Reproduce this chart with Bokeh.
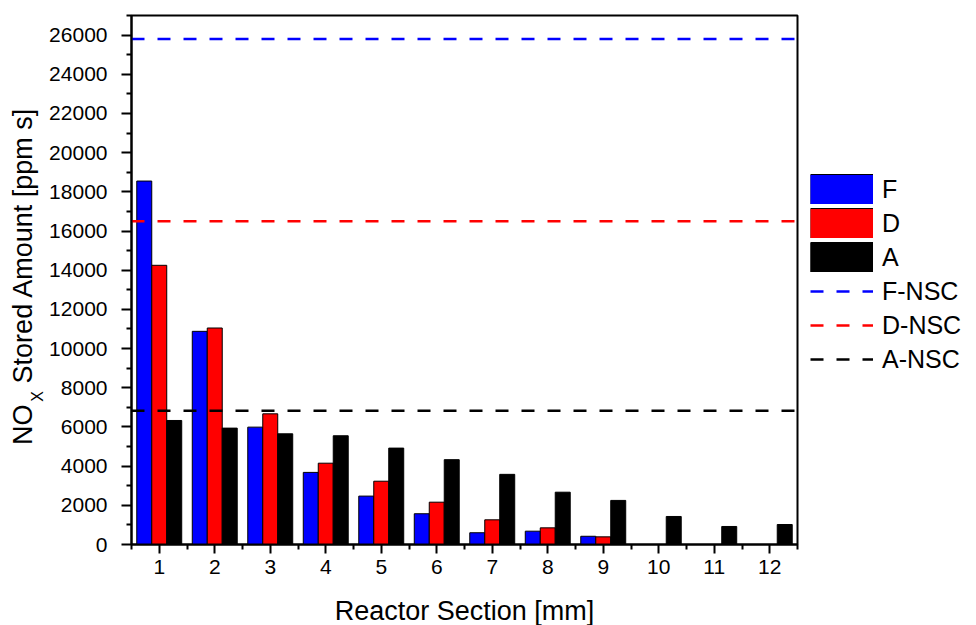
import math
from bokeh.plotting import figure
from bokeh.layouts import row
from bokeh.models import (Range1d, FixedTicker, Legend, LegendItem,
                          ColumnDataSource)
from bokeh.core.properties import value
from bokeh.transform import dodge
from bokeh.embed import file_html
from bokeh.resources import INLINE

# ---- data ----
sections = [1, 2, 3, 4, 5, 6, 7, 8, 9, 10, 11, 12]
F = [18550, 10880, 5990, 3680, 2470, 1570, 600, 680, 420, 0, 0, 0]
D = [14250, 11050, 6670, 4150, 3230, 2160, 1260, 850, 390, 0, 0, 0]
A = [6330, 5940, 5650, 5550, 4920, 4330, 3580, 2670, 2250, 1430, 920, 1020]
bar_names = ["F", "D", "A"]
bar_colors = ["#0000FF", "#FF0000", "#000000"]
nsc_names = ["F-NSC", "D-NSC", "A-NSC"]
nsc_values = [25800, 16500, 6830]
nsc_colors = ["#0000FF", "#FF0000", "#000000"]
y_ticks = list(range(0, 26001, 2000))
y_minor = list(range(1000, 27001, 2000))

FONT = "Liberation Sans"
X0, X1 = 0.5, 12.5
Y0, Y1 = 0, 27000
W, H = 976, 625
LW = 46                    # strip holding the y-axis title
RB = 5                     # right border of the main chart
FL, FW, FB, FH = 129, 666, 544, 529
LGW = W - FL - FW - RB     # strip holding the legend

src = ColumnDataSource(dict(x=sections, F=F, D=D, A=A))

def blank_strip(width, xr, yr):
    f = figure(width=width, height=H, output_backend="svg", toolbar_location=None,
               x_range=xr, y_range=yr, min_border=0,
               x_axis_location=None, y_axis_location=None)
    f.grid.visible = False
    f.outline_line_color = None
    return f

# ---- strip with the y-axis title (NO_X subscript); frame aligned with main frame ----
lab = blank_strip(LW, Range1d(0, LW), Range1d(0, FH))
start = FB - 447
title_parts = [("NO", 22.5, 0, "27px"),
               ("X", 36.5, 43.5, "16px"),
               ("Stored Amount [ppm s]", 22.5, 62, "27px")]
for txt, cx, dy, size in title_parts:
    lab.text(x=[cx], y=[start + dy], text=[txt], angle=math.pi / 2,
             text_font=value(FONT), text_font_size=size, text_color="black",
             text_align="left", text_baseline="middle")

# ---- main chart ----
p = figure(frame_width=FW, frame_height=FH, output_backend="svg", toolbar_location=None,
           x_range=Range1d(X0, X1), y_range=Range1d(Y0, Y1),
           min_border_left=FL - LW, min_border_right=RB,
           min_border_top=FB - FH, min_border_bottom=H - FB)
p.grid.visible = False
p.outline_line_color = "black"
p.outline_line_width = 2
p.background_fill_color = "white"
p.border_fill_color = "white"

bw = 0.27
offsets = [-bw, 0, bw]
for name, col, off in zip(bar_names, bar_colors, offsets):
    p.vbar(x=dodge("x", off, range=p.x_range), top=name, width=bw,
           source=src, fill_color=col, line_color="black", line_width=1)

for name, val, col in zip(nsc_names, nsc_values, nsc_colors):
    p.line(x=[X0, X1], y=[val, val], line_color=col, line_width=2.5, line_dash="13 13")

xa = p.xaxis[0]
xa.ticker = FixedTicker(ticks=sections, minor_ticks=[s - 0.5 for s in sections] + [12.5])
xa.axis_label = "Reactor Section [mm]"
ya = p.yaxis[0]
ya.ticker = FixedTicker(ticks=y_ticks, minor_ticks=y_minor)
for ax in (xa, ya):
    ax.axis_line_width = 2
    ax.major_tick_line_width = 2
    ax.minor_tick_line_width = 2
    ax.major_tick_out = 9
    ax.major_tick_in = 0
    ax.minor_tick_out = 5
    ax.minor_tick_in = 0
    ax.major_label_text_font = FONT
    ax.major_label_text_font_size = "21px"
    ax.major_label_text_color = "black"
    ax.axis_label_text_font = FONT
    ax.axis_label_text_font_size = "27px"
    ax.axis_label_text_font_style = "normal"
    ax.axis_label_text_color = "black"
xa.major_label_standoff = 6
xa.axis_label_standoff = 19
ya.major_label_standoff = 14
ya.major_tick_out = 10

# ---- legend strip (hidden proxy renderers, drawn only by the legend) ----
lg = blank_strip(LGW, Range1d(0, LGW), Range1d(Y0, Y1))
items = []
for name, col in zip(bar_names, bar_colors):
    edge = lg.line(x="x", y=name, source=src, line_color="black", line_width=31,
                   line_cap="butt", visible=False)
    face = lg.line(x="x", y=name, source=src, line_color=col, line_width=29,
                   line_cap="butt", visible=False)
    items.append(LegendItem(label=name, renderers=[edge, face]))
for name, val, col in zip(nsc_names, nsc_values, nsc_colors):
    r = lg.line(x=[0, LGW], y=[val, val], line_color=col, line_width=2.5,
                line_dash="13 13", visible=False)
    items.append(LegendItem(label=name, renderers=[r]))
legend = Legend(items=items, location=(808 - (FL + FW + RB), FB - 377),
                glyph_width=63, glyph_height=30, label_height=30, spacing=4,
                padding=0, margin=0, label_standoff=9,
                label_text_font=FONT, label_text_font_size="25px",
                label_text_color="black", border_line_color=None,
                background_fill_alpha=0)
lg.add_layout(legend, "center")

layout = row(lab, p, lg)
open("out.html", "w").write(file_html(layout, INLINE))
